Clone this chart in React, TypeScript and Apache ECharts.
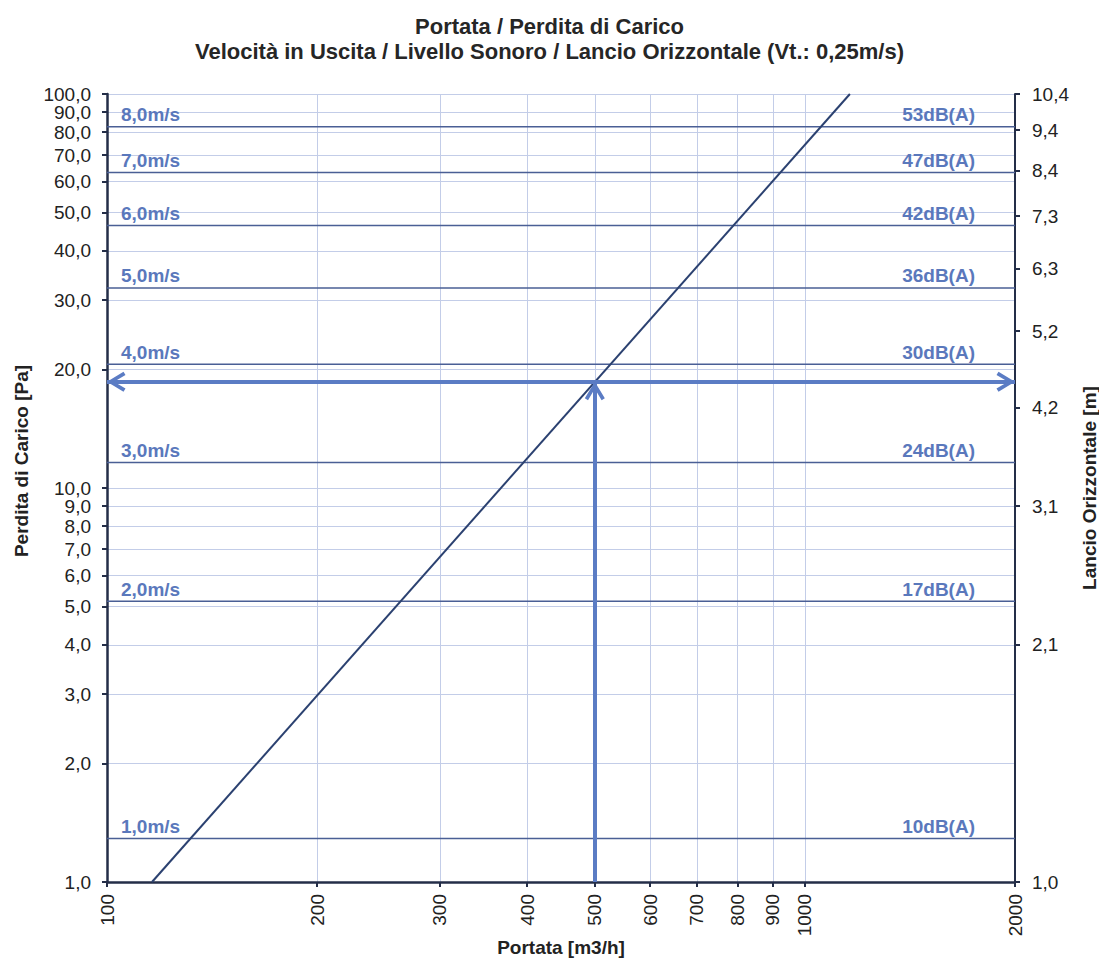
import React, { useEffect, useRef } from "react";
import * as echarts from "echarts";

// ---- data ----
const flowRange = [100, 2000];
const pressureRange = [1, 100];
const flowTicks = [100, 200, 300, 400, 500, 600, 700, 800, 900, 1000, 2000];
const pressureTicks = [1, 2, 3, 4, 5, 6, 7, 8, 9, 10, 20, 30, 40, 50, 60, 70, 80, 90, 100];
// left labels are split in two groups so the tight top pair is not auto-hidden
const pressureLabelValues = [1, 2, 3, 4, 5, 6, 7, 8, 9, 10, 20, 30, 40, 50, 60, 70, 80, 90];
const pressureTopLabelValues = [100];
// right axis (Lancio Orizzontale) ticks, placed at these pressure values
const throwTickPressure = [1, 4, 9, 16, 25, 36, 49, 64, 81, 100];
const throwTickLabels = ["1,0", "2,1", "3,1", "4,2", "5,2", "6,3", "7,3", "8,4", "9,4", "10,4"];
// velocity / sound level lines
const velocityLabels = ["1,0m/s", "2,0m/s", "3,0m/s", "4,0m/s", "5,0m/s", "6,0m/s", "7,0m/s", "8,0m/s"];
const soundLabels = ["10dB(A)", "17dB(A)", "24dB(A)", "30dB(A)", "36dB(A)", "42dB(A)", "47dB(A)", "53dB(A)"];
const velocityPressure = [1.29, 5.16, 11.6, 20.6, 32.2, 46.4, 63.2, 82.6];
// characteristic curve
const curveFlow = [116, 1160];
const curvePressure = [1, 100];
// operating point
const operatingFlow = 500;
const operatingPressure = 18.6;

const FONT = '"Liberation Sans", Arial, sans-serif';
const AXIS_DARK = "#242e48";
const GRID_COLOR = "#c3cde8";
const VEL_LINE = "#4a5f95";
const LABEL_BLUE = "#5a78bc";
const ARROW = "#5b7cc4";
const CHEVRON =
  "path://M10,0 L20,16.5 L16.8,18.5 L10,7 L3.2,18.5 L0,16.5 Z M10,-18.5 L10.01,-18.5 L10,-18.5 Z";

function throwLabel(v: number): string {
  let best = 0;
  let bestD = Infinity;
  for (let i = 0; i < throwTickPressure.length; i++) {
    const d = Math.abs(Math.log(v) - Math.log(throwTickPressure[i]));
    if (d < bestD) {
      bestD = d;
      best = i;
    }
  }
  return throwTickLabels[best];
}

const pressureFormatter = (v: number) => v.toFixed(1).replace(".", ",");

function buildOption(): any {
  const velocitySeries = velocityPressure.map((p, i) => ({
    type: "line",
    silent: true,
    z: 3,
    symbol: "circle",
    symbolSize: 0,
    showSymbol: true,
    showAllSymbol: true,
    lineStyle: { color: VEL_LINE, width: 1.5 },
    itemStyle: { color: VEL_LINE },
    label: { color: LABEL_BLUE, fontSize: 19, fontWeight: "bold", fontFamily: FONT },
    data: [
      {
        value: [flowRange[0], p],
        label: { show: true, position: "right", distance: 0, offset: [14, -12], formatter: velocityLabels[i] },
      },
      {
        value: [flowRange[1], p],
        label: { show: true, position: "left", distance: 0, offset: [-40, -12], formatter: soundLabels[i] },
      },
    ],
  }));

  const labelBase = {
    show: true,
    margin: 16,
    fontSize: 19,
    color: "#222",
    fontFamily: FONT,
    hideOverlap: false,
    showMinLabel: true,
    showMaxLabel: true,
    formatter: pressureFormatter,
  };

  return {
    animation: false,
    backgroundColor: "#ffffff",
    title: {
      text: "Portata / Perdita di Carico",
      subtext: "Velocità in Uscita / Livello Sonoro / Lancio Orizzontale (Vt.: 0,25m/s)",
      left: "center",
      top: 10,
      itemGap: 3,
      textStyle: { fontSize: 22, fontWeight: "bold", color: "#262626", fontFamily: FONT },
      subtextStyle: { fontSize: 22, fontWeight: "bold", color: "#262626", fontFamily: FONT },
    },
    grid: { left: 107, right: 84, top: 94, bottom: 81, containLabel: false, outerBoundsMode: "none" },
    xAxis: {
      type: "log",
      logBase: 10,
      min: flowRange[0],
      max: flowRange[1],
      axisLine: { show: true, onZero: false, lineStyle: { color: AXIS_DARK, width: 2.5 } },
      axisTick: { show: true, customValues: flowTicks, length: 5, inside: false, lineStyle: { color: AXIS_DARK, width: 2 } },
      axisLabel: {
        show: true,
        customValues: flowTicks,
        rotate: 90,
        margin: 12,
        fontSize: 19,
        color: "#222",
        fontFamily: FONT,
        hideOverlap: false,
        showMinLabel: true,
        showMaxLabel: true,
        formatter: (v: number) => String(Math.round(v)),
      },
      splitLine: { show: true, lineStyle: { color: GRID_COLOR, width: 1 } },
      minorTick: { show: false },
      minorSplitLine: { show: false },
    },
    yAxis: [
      {
        type: "log",
        logBase: 10,
        min: pressureRange[0],
        max: pressureRange[1],
        position: "left",
        axisLine: { show: true, onZero: false, lineStyle: { color: AXIS_DARK, width: 2.5 } },
        axisTick: { show: true, customValues: pressureTicks, length: 5, inside: false, lineStyle: { color: AXIS_DARK, width: 2 } },
        axisLabel: { ...labelBase, customValues: pressureLabelValues },
        splitLine: { show: true, lineStyle: { color: GRID_COLOR, width: 1 } },
        minorTick: { show: false },
        minorSplitLine: { show: false },
      },
      {
        type: "log",
        logBase: 10,
        min: pressureRange[0],
        max: pressureRange[1],
        position: "right",
        axisLine: { show: true, onZero: false, lineStyle: { color: AXIS_DARK, width: 2 } },
        axisTick: { show: true, customValues: throwTickPressure, length: 5, inside: false, lineStyle: { color: AXIS_DARK, width: 2 } },
        axisLabel: {
          show: true,
          customValues: throwTickPressure,
          margin: 17,
          fontSize: 19,
          color: "#222",
          fontFamily: FONT,
          hideOverlap: false,
          showMinLabel: true,
          showMaxLabel: true,
          formatter: (v: number) => throwLabel(v),
        },
        splitLine: { show: false },
        minorTick: { show: false },
        minorSplitLine: { show: false },
      },
      {
        type: "log",
        logBase: 10,
        min: pressureRange[0],
        max: pressureRange[1],
        position: "left",
        axisLine: { show: false },
        axisTick: { show: false },
        axisLabel: { ...labelBase, customValues: pressureTopLabelValues },
        splitLine: { show: false },
        minorTick: { show: false },
        minorSplitLine: { show: false },
      },
    ],
    graphic: [
      {
        type: "text",
        x: 21,
        y: 461,
        rotation: Math.PI / 2,
        silent: true,
        style: {
          text: "Perdita di Carico [Pa]",
          font: 'bold 19px "Liberation Sans", Arial, sans-serif',
          fill: "#222",
          align: "center",
          verticalAlign: "middle",
          textAlign: "center",
          textVerticalAlign: "middle",
        },
      },
      {
        type: "text",
        x: 1089,
        y: 488,
        rotation: Math.PI / 2,
        silent: true,
        style: {
          text: "Lancio Orizzontale [m]",
          font: 'bold 19px "Liberation Sans", Arial, sans-serif',
          fill: "#222",
          align: "center",
          verticalAlign: "middle",
          textAlign: "center",
          textVerticalAlign: "middle",
        },
      },
      {
        type: "text",
        x: 561,
        y: 947,
        silent: true,
        style: {
          text: "Portata [m3/h]",
          font: 'bold 19px "Liberation Sans", Arial, sans-serif',
          fill: "#222",
          align: "center",
          verticalAlign: "middle",
          textAlign: "center",
          textVerticalAlign: "middle",
        },
      },
    ],
    series: [
      ...velocitySeries,
      {
        type: "line",
        silent: true,
        z: 4,
        symbol: "none",
        lineStyle: { color: "#2b4170", width: 2 },
        data: curveFlow.map((f, i) => [f, curvePressure[i]]),
        markLine: {
          silent: true,
          animation: false,
          emphasis: { disabled: true },
          label: { show: false },
          lineStyle: { color: ARROW, width: 4, type: "solid" },
          symbolSize: [20, 37],
          data: [
            [
              { coord: [flowRange[0], operatingPressure], symbol: CHEVRON, symbolSize: [20, 37] },
              { coord: [flowRange[1], operatingPressure], symbol: CHEVRON, symbolSize: [20, 37] },
            ],
            [
              { coord: [operatingFlow, pressureRange[0]], symbol: "none" },
              { coord: [operatingFlow, operatingPressure], symbol: CHEVRON, symbolSize: [20, 37] },
            ],
          ],
        },
      },
    ],
  };
}

export default function App() {
  const ref = useRef<HTMLDivElement>(null);
  useEffect(() => {
    document.body.style.margin = "0";
    if (!ref.current) return;
    const chart = echarts.init(ref.current, undefined, { renderer: "svg" });
    chart.setOption(buildOption());
    return () => {
      chart.dispose();
    };
  }, []);
  return <div ref={ref} style={{ width: 1099, height: 963 }} />;
}
